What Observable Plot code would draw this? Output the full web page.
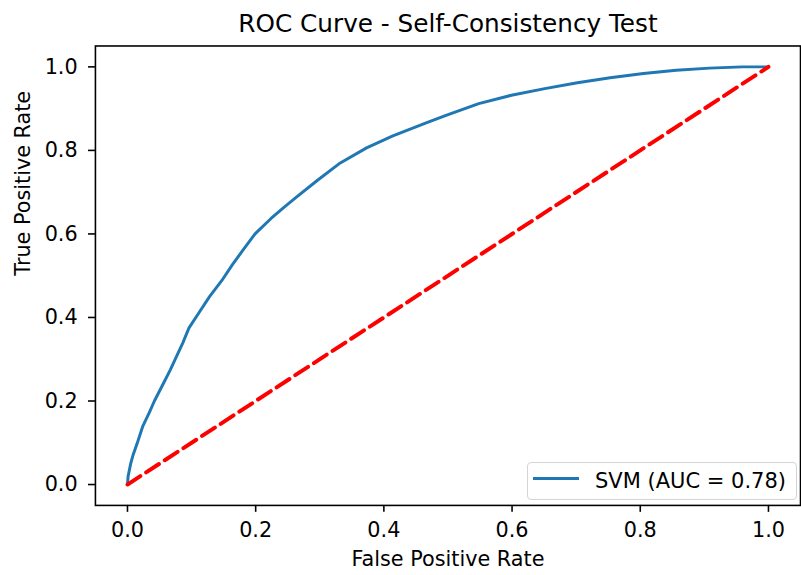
<!DOCTYPE html>
<html>
<head>
<meta charset="utf-8">
<script src="https://cdn.jsdelivr.net/npm/d3@7"></script>
<script src="https://cdn.jsdelivr.net/npm/@observablehq/plot@0.6"></script>
<style>
  html, body { margin: 0; padding: 0; background: #fff; overflow: hidden; }
  #wrap { position: relative; width: 801px; height: 575px; overflow: hidden; font-family: "DejaVu Sans", sans-serif; }
  #legend { position: absolute; left: 527px; top: 462px; width: 270px; height: 38px; box-sizing: border-box;
            border: 1.5px solid #d4d4d4; border-radius: 4px; background: rgba(255,255,255,0.85); }
  #legend .swatch { position: absolute; left: 5px; top: 14px; width: 46px; height: 0; border-top: 3px solid #1f77b4; }
  #legend .label { position: absolute; left: 67px; top: 4px; font-size: 21px; line-height: 28px; color: #000; white-space: nowrap; }
</style>
</head>
<body>
<div id="wrap"></div>
<script>
// ---- data ----
const title = "ROC Curve - Self-Consistency Test";
const xLabel = "False Positive Rate";
const yLabel = "True Positive Rate";
const seriesName = "SVM (AUC = 0.78)";
const tickValues = [0, 0.2, 0.4, 0.6, 0.8, 1.0];

const fpr = [0, 0.001, 0.005, 0.009, 0.015, 0.024, 0.034, 0.042, 0.057, 0.067, 0.076, 0.086, 0.096,
             0.111, 0.128, 0.147, 0.164, 0.181, 0.199, 0.224, 0.245, 0.265, 0.296, 0.332, 0.373,
             0.414, 0.466, 0.497, 0.548, 0.599, 0.651, 0.702, 0.753, 0.805, 0.856, 0.908, 0.959, 0.992, 1.0];
const tpr = [0, 0.02, 0.05, 0.072, 0.098, 0.14, 0.172, 0.2, 0.245, 0.275, 0.305, 0.338, 0.375,
             0.41, 0.45, 0.488, 0.527, 0.563, 0.6, 0.637, 0.665, 0.69, 0.728, 0.77, 0.806,
             0.835, 0.866, 0.884, 0.912, 0.932, 0.948, 0.962, 0.974, 0.984, 0.992, 0.997, 1.0, 1.0, 1.0];

const chanceX = [0, 1];
const chanceY = [0, 1];

// ---- tables built from the arrays ----
const roc = fpr.map((f, i) => ({fpr: f, tpr: tpr[i]}));
const chance = chanceX.map((v, i) => ({x: v, y: chanceY[i]}));

const chart = Plot.plot({
  width: 810,
  height: 575,
  marginLeft: 96,
  marginRight: 1,
  marginTop: 46,
  marginBottom: 64.4,
  x: {domain: [-0.05, 1.05]},
  y: {domain: [-0.05, 1.05]},
  style: {fontFamily: "DejaVu Sans", fontSize: "21px", color: "#000", background: "#fff", overflow: "visible"},
  marks: [
    Plot.line(roc, {x: "fpr", y: "tpr", stroke: "#1f77b4", strokeWidth: 3}),
    Plot.line(chance, {x: "x", y: "y", stroke: "#ff0000", strokeWidth: 4, strokeDasharray: "15.5,7"}),
    Plot.frame({stroke: "#000", strokeWidth: 1.6}),
    Plot.axisX({ticks: tickValues, tickFormat: d3.format(".1f"), tickSize: 7, tickPadding: 10,
                label: null, fontSize: 21, strokeWidth: 1.6}),
    Plot.axisY({ticks: tickValues, tickFormat: d3.format(".1f"), tickSize: 7, tickPadding: 11,
                label: null, fontSize: 21, strokeWidth: 1.6}),
    Plot.text([title], {text: d => d, frameAnchor: "top", dy: -22, lineAnchor: "middle", fontSize: 25}),
    Plot.text([xLabel], {text: d => d, frameAnchor: "bottom", dy: 55, lineAnchor: "middle", fontSize: 21}),
    Plot.text([yLabel], {text: d => d, frameAnchor: "left", dx: -73, rotate: -90, lineAnchor: "middle", fontSize: 21})
  ]
});

const wrap = document.getElementById("wrap");
wrap.appendChild(chart);

const legend = document.createElement("div");
legend.id = "legend";
const sw = document.createElement("div");
sw.className = "swatch";
const lb = document.createElement("div");
lb.className = "label";
lb.textContent = seriesName;
legend.appendChild(sw);
legend.appendChild(lb);
wrap.appendChild(legend);
</script>
</body>
</html>
